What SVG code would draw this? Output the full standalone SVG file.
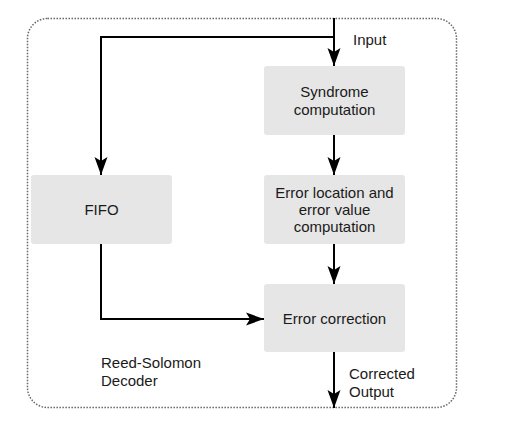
<svg xmlns="http://www.w3.org/2000/svg" width="519" height="440" viewBox="0 0 519 440">
<style>
.box{fill:#e6e6e6;stroke:none}
.t{font-family:"Liberation Sans",Arial,sans-serif;font-size:15px;fill:#1a1a1a}
.m{text-anchor:middle}
.c{fill:none;stroke:#000;stroke-width:2}
</style>
<defs>
<marker id="ah" viewBox="0 0 18 14" refX="18" refY="7" markerWidth="18" markerHeight="14" markerUnits="userSpaceOnUse" orient="auto">
<path d="M0,0.5 L18,7 L0,13.5 L4,7 Z" fill="#000"/>
</marker>
</defs>
<rect x="0" y="0" width="519" height="440" fill="#fff"/>
<g id="boundary">
<rect x="27.5" y="18.5" width="429" height="389" rx="20" fill="none" stroke="#666" stroke-width="1.5" stroke-dasharray="1.5 1.5"/>
<text class="t" x="101" y="368">Reed-Solomon</text>
<text class="t" x="101" y="386">Decoder</text>
</g>
<g id="connectors">
<path class="c" d="M334,18 V66" marker-end="url(#ah)"/>
<path class="c" d="M334,37 H101 V175" marker-end="url(#ah)"/>
<path class="c" d="M334,135 V175" marker-end="url(#ah)"/>
<path class="c" d="M334,244 V284" marker-end="url(#ah)"/>
<path class="c" d="M101,244 V319 H264" marker-end="url(#ah)"/>
<path class="c" d="M334,352 V408" marker-end="url(#ah)"/>
<text class="t" x="353" y="45">Input</text>
<text class="t" x="349" y="379">Corrected</text>
<text class="t" x="349" y="397">Output</text>
</g>
<g id="syndrome">
<rect class="box" x="264" y="66" width="141" height="69" rx="3"/>
<text class="t m" x="334.5" y="97">Syndrome</text>
<text class="t m" x="334.5" y="115">computation</text>
</g>
<g id="fifo">
<rect class="box" x="31" y="175" width="141" height="69" rx="3"/>
<text class="t m" x="101.5" y="215">FIFO</text>
</g>
<g id="errloc">
<rect class="box" x="264" y="175" width="141" height="69" rx="3"/>
<text class="t m" x="334.5" y="198">Error location and</text>
<text class="t m" x="334.5" y="215">error value</text>
<text class="t m" x="334.5" y="232">computation</text>
</g>
<g id="errcorr">
<rect class="box" x="264" y="284" width="141" height="68" rx="3"/>
<text class="t m" x="334.5" y="324">Error correction</text>
</g>
</svg>
